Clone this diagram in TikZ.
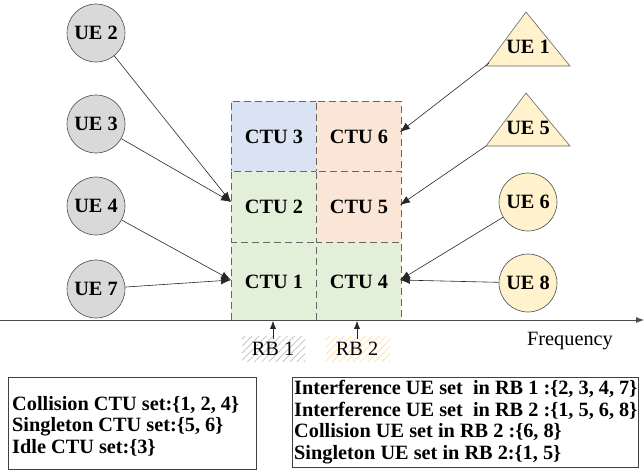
\documentclass[tikz,border=0pt]{standalone}
\usepackage{fontspec}
\setmainfont{Liberation Serif}
\usetikzlibrary{arrows.meta,patterns.meta}
\definecolor{ctublue}{HTML}{DAE3F3}
\definecolor{ctuorange}{HTML}{FBE5D6}
\definecolor{ctugreen}{HTML}{E2F0D9}
\definecolor{uegray}{HTML}{D9D9D9}
\definecolor{ueyellow}{HTML}{FFF2CC}
\definecolor{hatchgray}{HTML}{BFBFBF}
\definecolor{hatchorange}{HTML}{FFE0A0}
\tikzset{
  lbl/.style={font=\fontsize{20.3}{23}\selectfont\bfseries},
  plain/.style={font=\fontsize{20.3}{23}\selectfont},
  cell/.style={draw=black!60, dashed, dash pattern=on 7pt off 4pt, line width=0.8pt, minimum width=85pt, inner sep=0pt, lbl},
  uecirc/.style={circle, draw=black!70, line width=0.6pt, fill=uegray, minimum size=58pt, inner sep=0pt, lbl},
  uetri/.style={draw=black!60, line width=0.6pt, fill=ueyellow},
  link/.style={draw=black!85, line width=0.6pt, -{Latex[length=10pt,width=7.5pt]}},
  uplink/.style={draw=black!85, line width=0.6pt, -{Latex[length=8pt,width=6pt]}},
  frame/.style={draw=black!75, line width=0.8pt},
  setbox/.style={align=left, inner sep=0pt, font=\fontsize{20.3}{21.5}\selectfont\bfseries}
}
\begin{document}
\begin{tikzpicture}[x=1pt,y=-1pt]
\useasboundingbox (0,0) rectangle (644,475);

% resource grid: two RBs, three CTUs each
\node[cell, fill=ctublue,   minimum height=70pt, anchor=north west] (c3) at (231,101) {CTU 3};
\node[cell, fill=ctugreen,  minimum height=71pt, anchor=north west] (c2) at (231,171) {CTU 2};
\node[cell, fill=ctugreen,  minimum height=78pt, anchor=north west] (c1) at (231,242) {CTU 1};
\node[cell, fill=ctuorange, minimum height=70pt, anchor=north west] (c6) at (316,101) {CTU 6};
\node[cell, fill=ctuorange, minimum height=71pt, anchor=north west] (c5) at (316,171) {CTU 5};
\node[cell, fill=ctugreen,  minimum height=78pt, anchor=north west] (c4) at (316,242) {CTU 4};

% frequency axis
\coordinate (ax0) at (0,320);
\coordinate (ax1) at (644,320);
\draw[draw=black!70, line width=0.8pt, -{Latex[length=8pt,width=6pt]}] (ax0) -- (ax1);
\node[plain] (freq) at (570,341) {Frequency};

% resource block labels
\fill[pattern={Lines[angle=45,distance=5pt,line width=0.7pt]}, pattern color=hatchgray] (242,336) rectangle (305,361);
\fill[pattern={Lines[angle=45,distance=5pt,line width=0.7pt]}, pattern color=hatchorange] (326,336) rectangle (390,361);
\node[plain] (rb1) at (273,349) {RB 1};
\node[plain] (rb2) at (357,349) {RB 2};
\draw[uplink] (rb1.north) -- (c1.south -| rb1.north);
\draw[uplink] (rb2.north) -- (c4.south -| rb2.north);

% UEs on the left
\node[uecirc] (ue2) at (96,33)  {UE 2};
\node[uecirc] (ue3) at (96,124) {UE 3};
\node[uecirc] (ue4) at (96,206) {UE 4};
\node[uecirc] (ue7) at (96,289) {UE 7};

% UEs on the right
\draw[uetri] (526,12) -- (570,66) -- (486,66) -- cycle;
\node[lbl] (ue1) at (528,47) {UE 1};
\draw[uetri] (526,93) -- (570,146) -- (486,146) -- cycle;
\node[lbl] (ue5) at (528,128) {UE 5};
\node[uecirc, fill=ueyellow] (ue6) at (528,202) {UE 6};
\node[uecirc, fill=ueyellow] (ue8) at (528,283) {UE 8};
\coordinate (ue1a) at (489,63);
\coordinate (ue5a) at (486,146);

% transmissions onto CTUs
\coordinate (t2) at (231,202);
\coordinate (t1) at (231,280);
\coordinate (t6) at (400,132);
\coordinate (t5) at (400,205);
\coordinate (t4) at (400,280);
\draw[link] (ue2) -- (t2);
\draw[link] (ue3) -- (t2);
\draw[link] (ue4) -- (t1);
\draw[link] (ue7) -- (t1);
\draw[link] (ue1a) -- (t6);
\draw[link] (ue5a) -- (t5);
\draw[link] (ue6) -- (t4);
\draw[link] (ue8) -- (t4);

% set summaries
\draw[frame] (8,377) rectangle (256,469);
\node[setbox, anchor=west] (sets1) at (12,426) {Collision CTU set:\{1, 2, 4\}\\Singleton CTU set:\{5, 6\}\\Idle CTU set:\{3\}};
\draw[frame] (292,377) rectangle (638,467);
\node[setbox, anchor=west] (sets2) at (294,422) {Interference UE set\ \ in RB 1 :\{2, 3, 4, 7\}\\Interference UE set\ \ in RB 2 :\{1, 5, 6, 8\}\\Collision UE set in RB 2 :\{6, 8\}\\Singleton UE set in RB 2:\{1, 5\}};
\end{tikzpicture}
\end{document}
